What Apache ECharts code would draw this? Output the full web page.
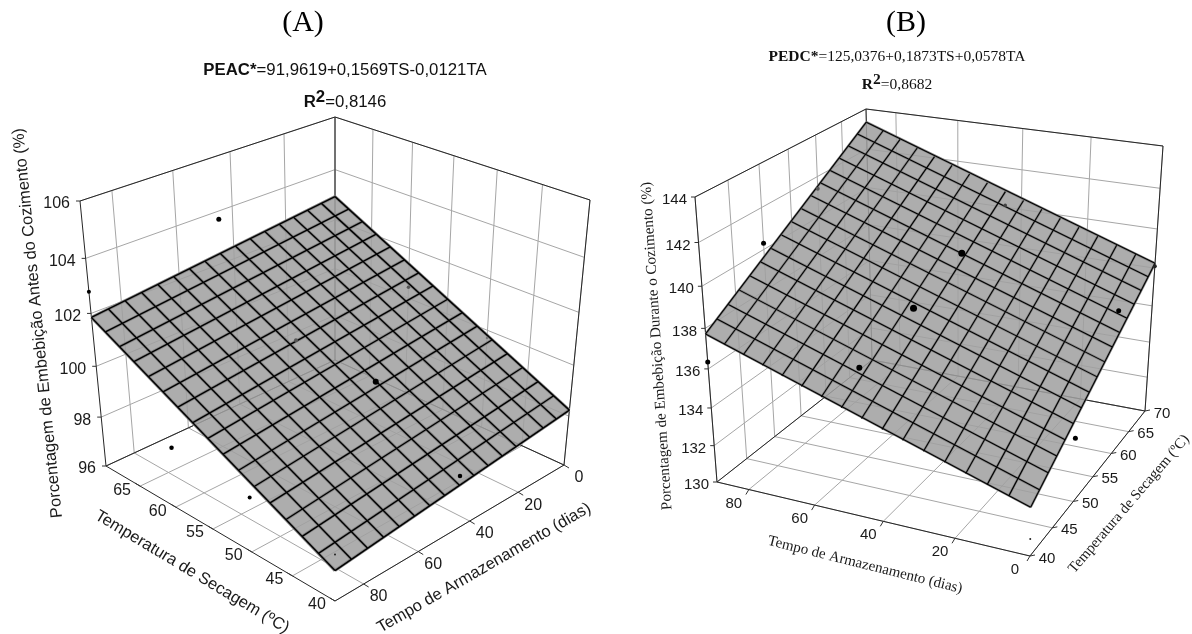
<!DOCTYPE html>
<html><head><meta charset="utf-8">
<style>html,body{margin:0;padding:0;background:#fff}#c{width:1192px;height:634px}#c canvas{filter:blur(0.4px)}</style>
<script src="https://cdn.jsdelivr.net/npm/echarts@6/dist/echarts.min.js"></script>
</head><body><div id="c"></div>
<script>
// ---------- data ----------
const panelTitles = ['(A)', '(B)'];
const A_equation = ['PEAC*', '=91,9619+0,1569TS-0,0121TA'];
const A_r2 = '=0,8146';
const B_equation = ['PEDC*', '=125,0376+0,1873TS+0,0578TA'];
const B_r2 = '=0,8682';
const A_zTitle = 'Porcentagem de Embebição Antes do Cozimento (%)';
const B_zTitle = 'Porcentagem de Embebição Durante o Cozimento (%)';
const tsTitle_A = 'Temperatura de Secagem (ºC)';
const tsTitle_B = 'Temperatura de Secagem (ºC)';
const taTitle = 'Tempo de Armazenamento (dias)';

const tsGrid = [40, 45, 50, 55, 60, 65, 70];
const taGrid = [0, 20, 40, 60, 80];
const A_zTicks = [96, 98, 100, 102, 104, 106];
const B_zTicks = [130, 132, 134, 136, 138, 140, 142, 144];
const A_tsLabels = [40, 45, 50, 55, 60, 65];
const B_tsLabels = [40, 45, 50, 55, 60, 65, 70];

// fitted-plane height at the corners (TS,TA): (40,0) (70,0) (70,90) (40,90)
const A_planeCorners = [98.24, 102.94, 101.85, 97.15];
const B_planeCorners = [132.53, 138.25, 143.35, 137.73];

// observed points
const A_ts = [70, 70, 60, 50, 50, 40, 40, 60, 60, 50];
const A_ta = [45, 90, 90, 90, 45, 45, 90, 45, 0, 0];
const A_z  = [103.7, 102.8, 98.35, 98.1, 100.1, 98.05, 97.75, 100.3, 100.45, 99.7];
const B_ts = [50, 60, 70, 60, 50, 70, 60, 40, 40, 50, 40];
const B_ta = [90, 90, 45, 45, 45, 0, 0, 90, 45, 0, 0];
const B_z  = [140.3, 141.4, 140.1, 139.3, 138.4, 138.1, 137.7, 136.35, 137.6, 133.4, 130.9];

// ---------- layout (screen anchors of the 3D box) ----------
const layoutA = {
  floor: [[564,465],[335,360],[106,466],[335,601]],
  top:   [[590,200],[335,117],[80,201],[335,312]],
  k: 1.105, tsBack: 70, taBack: 0,
  tsAxisTa: 90, taAxisTs: 40, zAt: [70, 90],
  tsOff: [-18, 4], taOff: [15, 13], zOff: [-10, 3],
  tsTick: [-5, -3], taTick: [5, 3], zTick: [-4, 0],
  dotSize: [5, 4, 4.5, 4, 6, 4.5, 2, 4, 3.5, 2.5],
  dotColor: ['#000','#000','#000','#000','#000','#000','#222','#555','#555','#777'],
  lineW: 1.4, halo: 3, tickFont: 16
};
const layoutB = {
  floor: [[1030,556],[1145,411],[872,360],[717,482]],
  top:   [[1034,255],[1163,146],[866,109],[695,197]],
  k: 1.14, tsBack: 70, taBack: 90,
  tsAxisTa: 0, taAxisTs: 40, zAt: [40, 90],
  tsOff: [17, 2.5], taOff: [-15, 14], zOff: [-8, 3],
  tsTick: [5, -1], taTick: [-3, 5], zTick: [-4, 0],
  dotSize: [5, 4, 3.5, 7, 7, 4, 5, 5, 6, 5, 2],
  dotColor: ['#000','#555','#444','#000','#000','#222','#000','#000','#000','#000','#222'],
  lineW: 1.1, halo: 2.4, tickFont: 15
};

const TS0 = 40, TS1 = 70, TA0 = 0, TA1 = 90, CELLS = 16;

function homography(q) {
  const [p0, p1, p2, p3] = q;
  const dx1 = p1[0]-p2[0], dx2 = p3[0]-p2[0], sx = p0[0]-p1[0]+p2[0]-p3[0];
  const dy1 = p1[1]-p2[1], dy2 = p3[1]-p2[1], sy = p0[1]-p1[1]+p2[1]-p3[1];
  const den = dx1*dy2 - dx2*dy1;
  const g = (sx*dy2 - dx2*sy)/den, h = (dx1*sy - sx*dy1)/den;
  const a = p1[0]-p0[0]+g*p1[0], b = p3[0]-p0[0]+h*p3[0], c = p0[0];
  const d = p1[1]-p0[1]+g*p1[1], e = p3[1]-p0[1]+h*p3[1], f = p0[1];
  return (u, v) => { const w = g*u+h*v+1; return [(a*u+b*v+c)/w, (d*u+e*v+f)/w]; };
}
function makeProjector(L, zTicks) {
  const F = homography(L.floor), T = homography(L.top);
  const z0 = zTicks[0], z1 = zTicks[zTicks.length-1];
  return (ts, ta, z) => {
    const u = (ts-TS0)/(TS1-TS0), v = (ta-TA0)/(TA1-TA0), t = (z-z0)/(z1-z0);
    const f = t/(t+(1-t)*L.k);
    const a = F(u,v), b = T(u,v);
    return [a[0]+(b[0]-a[0])*f, a[1]+(b[1]-a[1])*f];
  };
}
const base = {type:'custom', coordinateSystem:'cartesian2d', silent:true, clip:false, animation:false};

function panelSeries(L, zTicks, corners, tsLabels, pts) {
  const proj = makeProjector(L, zTicks);
  const zMin = zTicks[0], zMax = zTicks[zTicks.length-1];
  const plane = (ts, ta) => {
    const u=(ts-TS0)/(TS1-TS0), v=(ta-TA0)/(TA1-TA0);
    return corners[0]*(1-u)*(1-v)+corners[1]*u*(1-v)+corners[2]*u*v+corners[3]*(1-u)*v;
  };
  const gray = [], dark = [], mesh = [];
  tsGrid.forEach(ts => {
    gray.push([ts,TA0,zMin,ts,TA1,zMin]);
    gray.push([ts,L.taBack,zMin,ts,L.taBack,zMax]);
  });
  taGrid.forEach(ta => {
    gray.push([TS0,ta,zMin,TS1,ta,zMin]);
    gray.push([L.tsBack,ta,zMin,L.tsBack,ta,zMax]);
  });
  zTicks.forEach(z => {
    gray.push([L.tsBack,TA0,z,L.tsBack,TA1,z]);
    gray.push([TS0,L.taBack,z,TS1,L.taBack,z]);
  });
  const cs = [[TS0,TA0],[TS1,TA0],[TS1,TA1],[TS0,TA1]];
  cs.forEach((c,i) => {
    const n = cs[(i+1)%4];
    dark.push([c[0],c[1],zMin,n[0],n[1],zMin]);
    if (c[0]===L.tsBack && n[0]===L.tsBack || c[1]===L.taBack && n[1]===L.taBack) dark.push([c[0],c[1],zMax,n[0],n[1],zMax]);
    const isFront = (c[0]!==L.tsBack && c[1]!==L.taBack);
    if (!isFront) dark.push([c[0],c[1],zMin,c[0],c[1],zMax]);
  });
  for (let i=0;i<=CELLS;i++) {
    const ts = TS0+(TS1-TS0)*i/CELLS, ta = TA0+(TA1-TA0)*i/CELLS;
    mesh.push([ts,TA0,plane(ts,TA0),ts,TA1,plane(ts,TA1)]);
    mesh.push([TS0,ta,plane(TS0,ta),TS1,ta,plane(TS1,ta)]);
  }
  const segRender = style => (params, api) => {
    const a = api.coord(proj(api.value(0),api.value(1),api.value(2)));
    const b = api.coord(proj(api.value(3),api.value(4),api.value(5)));
    return {type:'line', shape:{x1:a[0],y1:a[1],x2:b[0],y2:b[1]}, style};
  };
  const segs = (name, data, style) => Object.assign({}, base, {name, data, renderItem: segRender(style)});

  const surfaceFill = Object.assign({}, base, {
    name:'surface', data:[corners.map(z=>z)],
    renderItem:(params, api) => {
      const points = cs.map((c,i)=>api.coord(proj(c[0],c[1],api.value(i))));
      return {type:'polygon', shape:{points}, style:{fill:'rgba(160,160,160,0.86)', stroke:null}};
    }
  });
  const dots = Object.assign({}, base, {
    name:'observed', data: pts.ts.map((t,i)=>[t,pts.ta[i],pts.z[i],i]),
    renderItem:(params, api) => {
      const p = api.coord(proj(api.value(0),api.value(1),api.value(2)));
      const i = api.value(3);
      return {type:'circle', shape:{cx:p[0],cy:p[1],r:L.dotSize[i]/2}, style:{fill:L.dotColor[i]}};
    }
  });
  const tickText = (name, data, locate, off, align, tick) => Object.assign({}, base, {
    name, data: data.map(v=>[v]),
    renderItem:(params, api) => {
      const v = api.value(0);
      const p = api.coord(locate(v));
      return {type:'group', children:[
        {type:'line', shape:{x1:p[0],y1:p[1],x2:p[0]+tick[0],y2:p[1]+tick[1]}, style:{stroke:'#333',lineWidth:1}},
        {type:'text', x:p[0]+off[0], y:p[1]+off[1],
         style:{text:String(v), fill:'#1a1a1a', font:L.tickFont+'px "Liberation Sans", Arial, sans-serif', align, verticalAlign:'middle'}}
      ]};
    }
  });
  return [
    segs('wall-floor-grid', gray, {stroke:'#a6a6a6', lineWidth:1}),
    segs('box-edges', dark, {stroke:'#262626', lineWidth:1}),
    surfaceFill,
    segs('mesh-halo', mesh, {stroke:'#868686', lineWidth:L.halo}),
    segs('mesh', mesh, {stroke:'#000', lineWidth:L.lineW}),
    dots,
    tickText('ts-axis', tsLabels, v=>proj(v,L.tsAxisTa,zMin), L.tsOff, 'center', L.tsTick),
    tickText('ta-axis', taGrid, v=>proj(L.taAxisTs,v,zMin), L.taOff, 'center', L.taTick),
    tickText('z-axis', zTicks, v=>proj(L.zAt[0],L.zAt[1],v), L.zOff, 'right', L.zTick)
  ];
}

const SANS = '"Liberation Sans", Arial, sans-serif', SERIF = '"Liberation Serif", "Times New Roman", serif';
function rotText(text, x, y, deg, font, fill) {
  return {type:'text', x, y, rotation:deg*Math.PI/180, silent:true,
    style:{text, font, fill: fill||'#1a1a1a', align:'center', verticalAlign:'middle'}};
}
function eqTitle(eq, r2, cx, y1, y2, family, size, r2size) {
  const rich = {
    b:{fontFamily:family, fontWeight:'bold', fontSize:size, color:'#111'},
    n:{fontFamily:family, fontWeight:'normal', fontSize:size, color:'#111'},
    rb:{fontFamily:family, fontWeight:'bold', fontSize:r2size, color:'#111'},
    s:{fontFamily:family, fontWeight:'bold', fontSize:r2size, color:'#111', padding:[0,0,9,0]},
  };
  return [
    {text:`{b|${eq[0]}}{n|${eq[1]}}`, left:cx, top:y1, textAlign:'center', textStyle:{fontWeight:'normal', rich}},
    {text:`{rb|R}{s|2}{n|${r2}}`, left:cx, top:y2, textAlign:'center', textStyle:{fontWeight:'normal', rich}}
  ];
}

const option = {
  backgroundColor:'#fff',
  animation:false,
  grid:{left:0,right:0,top:0,bottom:0,containLabel:false},
  xAxis:{type:'value',min:0,max:1192,show:false},
  yAxis:{type:'value',min:0,max:634,inverse:true,show:false},
  title:[
    {text:panelTitles[0], left:298, top:3, textAlign:'center', textStyle:{fontFamily:SERIF,fontWeight:'normal',fontSize:30,color:'#000'}},
    {text:panelTitles[1], left:901, top:3, textAlign:'center', textStyle:{fontFamily:SERIF,fontWeight:'normal',fontSize:30,color:'#000'}},
    ...eqTitle(A_equation, A_r2, 340, 57, 84, SANS, 16.8, 16.8),
    ...eqTitle(B_equation, B_r2, 892, 44, 67, SERIF, 15.5, 15.5)
  ],
  graphic:[
    rotText(A_zTitle, 38, 323, 95.7, '16.5px '+SANS),
    rotText(tsTitle_A, 192, 572, -31, '16.5px '+SANS),
    rotText(taTitle, 484, 568, 30, '16.5px '+SANS),
    rotText(B_zTitle, 657, 346, 93.7, '15.1px '+SERIF),
    rotText(taTitle, 865, 565, -14, '15px '+SERIF),
    rotText(tsTitle_B, 1129, 504, 49.4, '14.8px '+SERIF)
  ],
  series:[
    ...panelSeries(layoutA, A_zTicks, A_planeCorners, A_tsLabels, {ts:A_ts,ta:A_ta,z:A_z}),
    ...panelSeries(layoutB, B_zTicks, B_planeCorners, B_tsLabels, {ts:B_ts,ta:B_ta,z:B_z})
  ]
};
const chart = echarts.init(document.getElementById('c'), null, {renderer:'canvas', width:1192, height:634});
chart.setOption(option);
</script></body></html>
